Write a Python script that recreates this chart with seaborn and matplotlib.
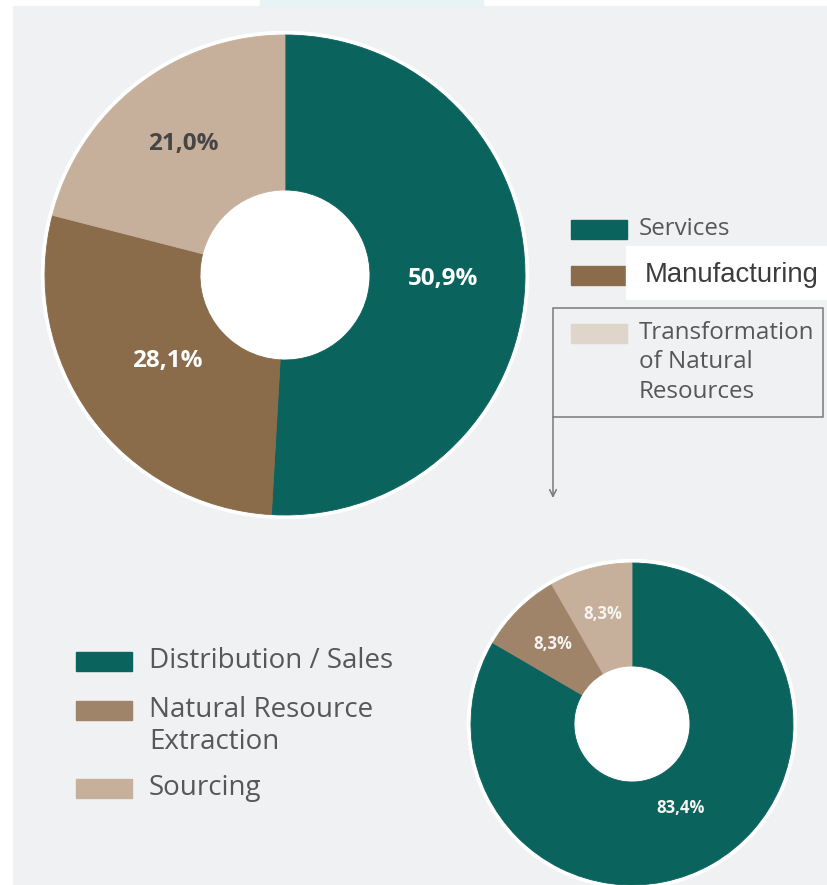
import matplotlib
matplotlib.use("Agg")
import numpy as np
import matplotlib.pyplot as plt
from matplotlib.patches import Rectangle, Circle
import seaborn as sns

# --- Дані ---
sector_labels = ["Services", "Manufacturing", "Transformation\nof Natural\nResources"]
sector_shares = [50.9, 28.1, 21.0]
sub_labels = ["Distribution / Sales", "Natural Resource\nExtraction", "Sourcing"]
sub_shares = [83.4, 8.3, 8.3]

# --- Стилі ---
sector_colors = sns.color_palette(["#0a635d", "#8a6b4a", "#c6b09c"])
sector_legend_colors = ["#0a635d", "#8a6b4a", "#e0d5ca"]
sector_pct_colors = ["white", "white", "#454545"]
sector_pct_dist = [0.66, 0.61, 0.69]
sub_colors = sns.color_palette(["#0a635d", "#a0846a", "#c6b09c"])
sub_pct_colors = ["#f7f4f1", "#f7f4f1", "#f7f4f1"]
sub_pct_dist = [0.60, 0.70, 0.71]

W, H = 828, 885
BG = "#f0f1f3"
TEXT = "#575757"

sns.set_theme(style="white")
plt.rcParams["font.family"] = ["Open Sans", "DejaVu Sans"]


def pct_fmt(p):
    return f"{p:.1f}%".replace(".", ",")


def donut(fig, cx, cy, r_out, r_in, shares, colors, pct_colors, pct_dist, size):
    """Малює кільцеву діаграму з центром у (cx, cy) у пікселях."""
    box = r_out * 1.04
    ax = fig.add_axes([(cx - box) / W, 1 - (cy + box) / H, 2 * box / W, 2 * box / H], zorder=2)
    ax.patch.set_visible(False)
    ax.add_patch(Circle((0, 0), 1 + 3.5 / r_out, color="white", zorder=0))
    wedges, _, autotexts = ax.pie(
        shares, colors=colors, startangle=90, counterclock=False, radius=1,
        autopct=pct_fmt, pctdistance=0.65,
        wedgeprops=dict(width=1 - r_in / r_out, linewidth=0.6),
        textprops=dict(fontsize=size, fontweight="bold"))
    for w in wedges:
        w.set_edgecolor(w.get_facecolor())
    # Підписи відсотків: кожен на своїй відстані від центру
    for w, t, c, d in zip(wedges, autotexts, pct_colors, pct_dist):
        mid = np.deg2rad((w.theta1 + w.theta2) / 2)
        t.set_position((d * np.cos(mid), d * np.sin(mid)))
        t.set_color(c)
    lim = box / r_out
    ax.set_xlim(-lim, lim)
    ax.set_ylim(-lim, lim)
    ax.set_aspect("equal")
    ax.axis("off")
    return ax


def legend(ax, labels, colors, x_sw, rows, x_txt, size, gap, fonts=None):
    for i, (lab, col, y) in enumerate(zip(labels, colors, rows)):
        ax.add_patch(Rectangle((x_sw, y - 9.5), 56, 19, color=col))
        fam = fonts[i] if fonts else "Open Sans"
        for j, line in enumerate(lab.split("\n")):
            ax.text(x_txt, y + j * gap, line, fontsize=size, color=TEXT,
                    family=[fam, "DejaVu Sans"], va="center", ha="left")


fig = plt.figure(figsize=(W / 100, H / 100), dpi=100, facecolor="white")

# Фон і підписи в піксельних координатах
bg = fig.add_axes([0, 0, 1, 1], zorder=0)
bg.set_xlim(0, W)
bg.set_ylim(H, 0)
bg.axis("off")
bg.add_patch(Rectangle((13, 6), W - 13, H - 6, color=BG))
bg.add_patch(Rectangle((260, 0), 223, 6, color="#e8f3f3"))

# Верхня легенда
bg.add_patch(Rectangle((626, 246), W - 626, 53, color="white", zorder=3))
legend(bg, sector_labels, sector_legend_colors, 571, [229, 275, 333], 639, 17.4, 29.5,
       fonts=["Open Sans", "Liberation Sans", "Open Sans"])
for t in bg.texts:
    if t.get_text() == "Manufacturing":
        t.set_x(645)
        t.set_fontsize(19.8)
        t.set_color("#3c3c3c")
        t.set_zorder(4)

# Рамка-вказівник
bg.add_patch(Rectangle((553, 308), 270, 109, fill=False, edgecolor="#7a7a7a", linewidth=1.1))
bg.annotate("", xy=(553, 498), xytext=(553, 417),
            arrowprops=dict(arrowstyle="->", color="#7a7a7a", linewidth=1.1,
                            shrinkA=0, shrinkB=0, mutation_scale=12))

# Нижня легенда
legend(bg, sub_labels, sub_colors, 76, [661, 710, 788], 149, 20, 32)

# Діаграми
donut(fig, 285, 275, 240, 85, sector_shares, sector_colors, sector_pct_colors, sector_pct_dist, 17.5)
donut(fig, 632, 724, 161, 58, sub_shares, sub_colors, sub_pct_colors, sub_pct_dist, 12)

fig.savefig("out.png", dpi=100, facecolor="white")
